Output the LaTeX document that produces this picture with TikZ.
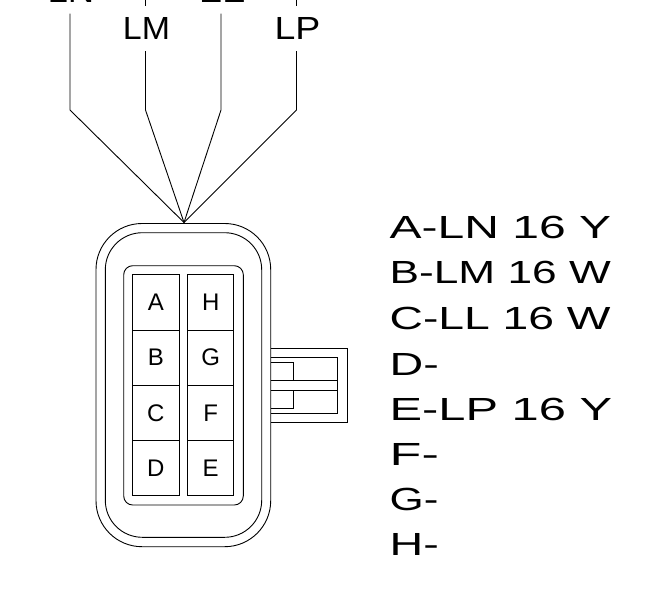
\documentclass[tikz,border=0pt]{standalone}
\usepackage{fontspec}
\setmainfont{Liberation Sans}
\tikzset{
  wire/.style={draw,line join=miter},
  shell/.style={draw,rounded corners=#1},
  cavity/.style={draw,minimum width=46.3pt,minimum height=55.2pt,inner sep=0pt,outer sep=0pt,font=\fontsize{24}{24}\selectfont},
  wirelabel/.style={anchor=base,inner sep=0pt,font=\fontsize{32}{32}\selectfont},
  pinlabel/.style={anchor=base west,inner sep=0pt,font=\fontsize{32}{32}\selectfont,xscale=#1},
  pinlabel/.default=1.458
}
\begin{document}
\begin{tikzpicture}[x=1pt,y=-1pt,line width=0.9pt]
\useasboundingbox (0,0) rectangle (655,592);
\clip (0,0) rectangle (655,592);
% wire labels
\node[wirelabel,xscale=1.14] (lblLN) at (71,2.5) {LN};
\node[wirelabel,xscale=1.06] (lblLM) at (146.5,39) {LM};
\node[wirelabel,xscale=1.32] (lblLL) at (222,2.5) {LL};
\node[wirelabel,xscale=1.17] (lblLP) at (297.5,39) {LP};
% wires
\coordinate (hub) at (184,222.5);
\coordinate (aT) at (70,13.5);   \coordinate (aB) at (70,110);
\coordinate (bT0) at (145.5,0);  \coordinate (bT1) at (145.5,6);
\coordinate (bT) at (145.5,51);  \coordinate (bB) at (145.5,110);
\coordinate (cT) at (221,13.5);  \coordinate (cB) at (221,110);
\coordinate (dT0) at (296.5,0);  \coordinate (dT1) at (296.5,6);
\coordinate (dT) at (296.5,51);  \coordinate (dB) at (296.5,110);
\draw[wire] (aT) -- (aB) -- (hub);
\draw[wire] (bT) -- (bB) -- (hub);
\draw[wire] (cT) -- (cB) -- (hub);
\draw[wire] (dT) -- (dB) -- (hub);
\draw[wire] (bT0) -- (bT1);
\draw[wire] (dT0) -- (dT1);
% locking tab
\draw (270.7,348.3) -- (347,348.3) -- (347,422) -- (270.7,422);
\draw (270.7,357.3) -- (337.7,357.3) -- (337.7,413) -- (270.7,413);
\draw (270.7,380.7) -- (337.7,380.7);
\draw (270.7,390) -- (337.7,390);
\draw (270.7,362.3) -- (293.3,362.3) -- (293.3,380.7);
\draw (293.3,390) -- (293.3,408) -- (270.7,408);
% shells
\path[shell=46] (96,223.5) rectangle (270.7,546.7);
\path[shell=37] (105.3,232.7) rectangle (261.7,537.3);
\path[shell=9] (123.7,265.7) rectangle (243.3,505);
% cavities
\node[cavity] (A) at (155.9,302.5) {A};
\node[cavity] (B) at (155.9,357.6) {B};
\node[cavity] (C) at (155.9,412.8) {C};
\node[cavity] (D) at (155.9,468) {D};
\node[cavity] (H) at (210.7,302.5) {H};
\node[cavity] (G) at (210.7,357.6) {G};
\node[cavity] (F) at (210.7,412.8) {F};
\node[cavity] (E) at (210.7,468) {E};
% pin list
\node[pinlabel=1.5] (pA) at (389,238) {A-LN 16 Y};
\node[pinlabel=1.382] (pB) at (389,283.5) {B-LM 16 W};
\node[pinlabel=1.445] (pC) at (389,329) {C-LL 16 W};
\node[pinlabel] (pD) at (389,375) {D-};
\node[pinlabel=1.525] (pE) at (389,420) {E-LP 16 Y};
\node[pinlabel=1.63] (pF) at (389,465) {F-};
\node[pinlabel=1.372] (pG) at (389,510) {G-};
\node[pinlabel] (pH) at (389,555) {H-};
\end{tikzpicture}
\end{document}
